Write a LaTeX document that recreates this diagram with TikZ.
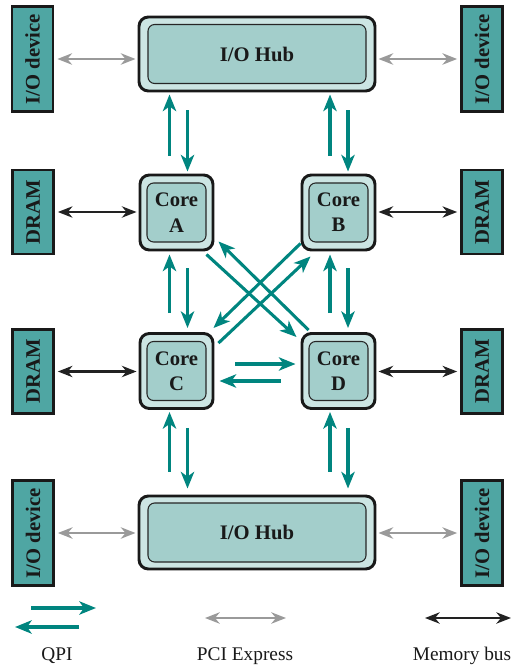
\documentclass[tikz,border=0pt]{standalone}
\usepackage{fontspec}
\setmainfont{Liberation Serif}
\usetikzlibrary{arrows.meta,calc}
\definecolor{devfill}{HTML}{4FA6A3}
\definecolor{outerfill}{HTML}{CCE5E3}
\definecolor{innerfill}{HTML}{A3CECB}
\definecolor{qpicol}{HTML}{00857F}
\definecolor{pcicol}{HTML}{9A9A9A}
\definecolor{memcol}{HTML}{222222}
\begin{document}
\begin{tikzpicture}[x=0.75pt,y=-0.75pt,
  lbl/.style={font=\bfseries\fontsize{15.5}{19}\selectfont, text=black!90},
  legendtxt/.style={font=\fontsize{14.5}{16}\selectfont, text=black!90},
  dev/.style={draw=black!90, line width=2pt, fill=devfill, minimum height=30.75pt, inner sep=0pt, rotate=90, lbl},
  outerbox/.style={draw=black!90, line width=2.2pt, fill=outerfill, rounded corners=7pt, inner sep=0pt},
  innerbox/.style={draw=black!85, line width=0.8pt, fill=innerfill, rounded corners=5pt, inner sep=0pt, align=center, lbl},
  qpi/.style={draw=qpicol, line width=2.3pt, -{Stealth[length=12.5pt,width=10pt,inset=3.5pt]}},
  pci/.style={draw=pcicol, line width=1.9pt, {Stealth[length=11pt,width=8.5pt,inset=3.5pt]}-{Stealth[length=11pt,width=8.5pt,inset=3.5pt]}},
  mem/.style={draw=memcol, line width=1.6pt, {Stealth[length=11pt,width=8.5pt,inset=3.5pt]}-{Stealth[length=11pt,width=8.5pt,inset=3.5pt]}}
]
\useasboundingbox (0,0) rectangle (530,670);

% devices
\node[dev, minimum width=78.75pt] (ioTL) at (32.5,59) {I/O device};
\node[dev, minimum width=78.75pt] (ioTR) at (482,59) {I/O device};
\node[dev, minimum width=63pt] (dramL1) at (33,212) {DRAM};
\node[dev, minimum width=63pt] (dramR1) at (482,212) {DRAM};
\node[dev, minimum width=63pt] (dramL2) at (33,371.5) {DRAM};
\node[dev, minimum width=63pt] (dramR2) at (482,371.5) {DRAM};
\node[dev, minimum width=78.75pt] (ioBL) at (33,533) {I/O device};
\node[dev, minimum width=78.75pt] (ioBR) at (482,533) {I/O device};

% hubs
\node[outerbox, minimum width=177pt, minimum height=55.5pt] (hubT) at (257,54) {};
\node[innerbox, minimum width=163.5pt, minimum height=44.25pt] (hubTi) at (hubT) {I/O Hub};
\node[outerbox, minimum width=177pt, minimum height=54.75pt] (hubB) at (257,532.5) {};
\node[innerbox, minimum width=163.5pt, minimum height=44.25pt] (hubBi) at (hubB) {I/O Hub};

% cores
\foreach \n/\l/\px/\py in {coreA/A/176.5/212.5, coreB/B/338.5/212.5, coreC/C/176.5/371, coreD/D/338.5/371}{
  \node[outerbox, minimum width=54.75pt, minimum height=56.25pt] (\n) at (\px,\py) {};
  \node[innerbox, minimum width=44.25pt, minimum height=44.25pt] (\n i) at (\n) {Core\\\l};
}

% QPI vertical: top hub <-> A, B
\draw[qpi] ($(coreA.north)+(-7,-18)$) -- ($(coreA.north |- hubT.south)+(-7,2)$);
\draw[qpi] ($(coreA.north |- hubT.south)+(11,18)$) -- ($(coreA.north)+(11,-2)$);
\draw[qpi] ($(coreB.north)+(-8.5,-18)$) -- ($(coreB.north |- hubT.south)+(-8.5,2)$);
\draw[qpi] ($(coreB.north |- hubT.south)+(9.5,18)$) -- ($(coreB.north)+(9.5,-2)$);

% A <-> C, B <-> D
\draw[qpi] ($(coreC.north)+(-7,-19)$) -- ($(coreA.south)+(-7,3)$);
\draw[qpi] ($(coreA.south)+(11,17)$) -- ($(coreC.north)+(11,-4)$);
\draw[qpi] ($(coreD.north)+(-8.5,-19)$) -- ($(coreB.south)+(-8.5,3)$);
\draw[qpi] ($(coreB.south)+(9.5,17)$) -- ($(coreD.north)+(9.5,-4)$);

% C, D <-> bottom hub
\draw[qpi] ($(coreC.south |- hubB.north)+(-7,-23)$) -- ($(coreC.south)+(-7,2)$);
\draw[qpi] ($(coreC.south)+(11,18)$) -- ($(coreC.south |- hubB.north)+(11,-6)$);
\draw[qpi] ($(coreD.south |- hubB.north)+(-8.5,-23)$) -- ($(coreD.south)+(-8.5,2)$);
\draw[qpi] ($(coreD.south)+(9.5,18)$) -- ($(coreD.south |- hubB.north)+(9.5,-6)$);

% diagonals
\draw[qpi] ($(coreA.south east)+(-8,3)$) -- ($(coreD.north west)+(-4,5)$);
\draw[qpi] ($(coreD.north west)+(8,-2)$) -- ($(coreA.south east)+(4,-10)$);
\draw[qpi] ($(coreB.south west)+(0,-8)$) -- ($(coreC.north east)+(-1,-4)$);
\draw[qpi] ($(coreC.north east)+(4,11)$) -- ($(coreB.south west)+(10,5)$);

% C <-> D horizontal
\draw[qpi] ($(coreC.east)+(21,-7)$) -- ($(coreD.west)+(-5,-7)$);
\draw[qpi] ($(coreD.west)+(-20,10)$) -- ($(coreC.east)+(5,10)$);

% PCI express
\draw[pci] ($(ioTL.south)+(3,0)$) -- ($(hubT.west |- ioTL.south)+(-2,0)$);
\draw[pci] ($(ioTR.north)+(-3,0)$) -- ($(hubT.east |- ioTR.north)+(2,0)$);
\draw[pci] ($(ioBL.south)+(3,0)$) -- ($(hubB.west |- ioBL.south)+(-2,0)$);
\draw[pci] ($(ioBR.north)+(-3,0)$) -- ($(hubB.east |- ioBR.north)+(2,0)$);

% memory bus
\draw[mem] ($(dramL1.south)+(3,0)$) -- ($(coreA.west |- dramL1.south)+(-2,0)$);
\draw[mem] ($(dramR1.north)+(-3,0)$) -- ($(coreB.east |- dramR1.north)+(2,0)$);
\draw[mem] ($(dramL2.south)+(3,0)$) -- ($(coreC.west |- dramL2.south)+(-2,0)$);
\draw[mem] ($(dramR2.north)+(-3,0)$) -- ($(coreD.east |- dramR2.north)+(2,0)$);

% legend
\coordinate (q1s) at (31,608);
\coordinate (q1e) at (96,608);
\coordinate (q2s) at (79,627);
\coordinate (q2e) at (15,627);
\draw[qpi] (q1s) -- (q1e);
\draw[qpi] (q2s) -- (q2e);
\coordinate (p1) at (205,618);
\coordinate (p2) at (286,618);
\draw[pci] (p1) -- (p2);
\coordinate (m1) at (425,618);
\coordinate (m2) at (511,618);
\draw[mem] (m1) -- (m2);
\node[legendtxt] (lq) at (57,656) {QPI};
\node[legendtxt] (lp) at (245,656) {PCI Express};
\node[legendtxt] (lm) at (462,656) {Memory bus};
\end{tikzpicture}
\end{document}
